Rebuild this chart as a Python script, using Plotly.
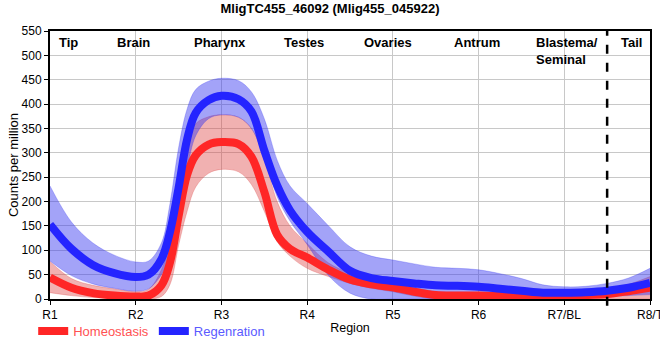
import plotly.graph_objects as go

# ---- data ----
x_pos = [1.0, 1.25, 1.5, 1.75, 2.0, 2.15, 2.3, 2.4, 2.5, 2.6, 2.7, 2.85, 3.0, 3.2, 3.35,
         3.5, 3.65, 3.8, 4.0, 4.25, 4.5, 4.75, 5.0, 5.25, 5.5, 5.75, 6.0, 6.25, 6.5,
         6.75, 7.0, 7.25, 7.5, 7.75, 8.0]

reg_mean = [153, 103, 70, 53, 45, 50, 82, 138, 228, 328, 382, 408, 417, 410, 385,
            305, 233, 182, 138, 97, 58, 43, 37, 32, 28, 27, 25, 21, 17,
            13, 13, 14, 17, 23, 33]
reg_upper = [232, 158, 115, 90, 76, 78, 115, 196, 310, 390, 430, 447, 453, 448, 425,
             370, 285, 232, 196, 150, 107, 88, 80, 72, 65, 63, 60, 52, 42,
             29, 25, 26, 32, 43, 63]
reg_lower = [78, 48, 31, 22, 16, 21, 50, 85, 155, 265, 335, 370, 378, 373, 350,
             290, 210, 160, 112, 48, 12, 0, 0, 0, 0, 0, 0, 0, 0,
             1, 2, 3, 5, 7, 9]

hom_mean = [44, 23, 12, 7, 5, 7, 28, 75, 170, 255, 295, 317, 322, 318, 292,
            220, 132, 103, 85, 60, 40, 30, 24, 15, 8, 7, 7, 6, 6,
            6, 6, 8, 10, 16, 23]
hom_upper = [77, 42, 28, 21, 15, 20, 60, 120, 220, 320, 360, 374, 378, 373, 350,
             290, 200, 150, 114, 74, 53, 38, 32, 24, 15, 14, 14, 13, 12,
             12, 13, 15, 20, 30, 46]
hom_lower = [13, 7, 3, 1, 0, 0, 5, 30, 110, 180, 230, 258, 266, 261, 235,
             180, 118, 88, 63, 46, 32, 22, 15, 6, 0, 0, 0, 0, 0,
             0, 0, 0, 0, 0, 0]

tick_vals = [1, 2, 3, 4, 5, 6, 7, 8]
tick_text = ["R1", "R2", "R3", "R4", "R5", "R6", "R7/BL", "R8/T"]

region_names = ["Tip", "Brain", "Pharynx", "Testes", "Ovaries", "Antrum", "Blastema/<br>Seminal", "Tail"]
region_x = [1.21, 1.97, 2.98, 3.96, 4.94, 5.98, 6.65, 7.78]

divider_x = 7.5

FONT = "Liberation Sans, Arial, sans-serif"

fig = go.Figure()

# Homeostasis band
fig.add_trace(go.Scatter(x=x_pos, y=hom_lower, mode="lines", line=dict(width=0.8, color="rgba(220,60,60,0.35)", shape="spline"),
                         showlegend=False, hoverinfo="skip"))
fig.add_trace(go.Scatter(x=x_pos, y=hom_upper, mode="lines", line=dict(width=0.8, color="rgba(220,60,60,0.35)", shape="spline"),
                         fill="tonexty", fillcolor="rgba(220,60,60,0.40)", showlegend=False, hoverinfo="skip"))
# Regeneration band
fig.add_trace(go.Scatter(x=x_pos, y=reg_lower, mode="lines", line=dict(width=0.8, color="rgba(50,50,240,0.35)", shape="spline"),
                         showlegend=False, hoverinfo="skip"))
fig.add_trace(go.Scatter(x=x_pos, y=reg_upper, mode="lines", line=dict(width=0.8, color="rgba(50,50,240,0.35)", shape="spline"),
                         fill="tonexty", fillcolor="rgba(50,50,240,0.45)", showlegend=False, hoverinfo="skip"))
# Mean lines
fig.add_trace(go.Scatter(x=x_pos, y=hom_mean, mode="lines", line=dict(width=8, color="#ff2626", shape="spline"),
                         name='<span style="color:#ff5252">Homeostasis</span>'))
fig.add_trace(go.Scatter(x=x_pos, y=reg_mean, mode="lines", line=dict(width=8, color="#2424ff", shape="spline"),
                         name='<span style="color:#5a5aff">Regenration</span>'))

for name, xv in zip(region_names, region_x):
    if "Blastema" in name:
        fig.add_annotation(x=xv, y=545, xref="x", yref="y", text="<b>" + name + "</b>", showarrow=False,
                           xanchor="left", yanchor="top", align="left",
                           font=dict(family=FONT, size=13, color="black"))
    else:
        fig.add_annotation(x=xv, y=545, xref="x", yref="y", text="<b>" + name + "</b>", showarrow=False,
                           xanchor="center", yanchor="top",
                           font=dict(family=FONT, size=13, color="black"))

fig.add_shape(type="line", x0=divider_x, x1=divider_x, xref="x", yref="paper", y0=-0.025, y1=1,
              line=dict(color="black", width=2.5, dash="dash"))

fig.update_layout(
    width=660, height=360,
    margin=dict(l=50, r=10, t=31, b=61, autoexpand=False),
    paper_bgcolor="white", plot_bgcolor="white",
    font=dict(family=FONT, size=12, color="black"),
    title=dict(text="<b>MligTC455_46092 (Mlig455_045922)</b>", x=0.5, xanchor="center", y=0.977, yanchor="middle",
               font=dict(family=FONT, size=13, color="black")),
    legend=dict(orientation="h", x=-0.028, xanchor="left", y=-0.12, yanchor="middle",
                font=dict(family=FONT, size=13), bgcolor="rgba(0,0,0,0)", itemwidth=30, traceorder="normal"),
    showlegend=True,
)

fig.update_xaxes(range=[1, 8], tickvals=tick_vals, ticktext=tick_text, showgrid=True, gridcolor="#c8c8c8", gridwidth=1,
                 showline=True, linecolor="black", linewidth=2, mirror=True, ticks="outside", ticklen=4, tickcolor="black",
                 tickfont=dict(family=FONT, size=12, color="black"), zeroline=False, automargin=False,
                 ticklabeloverflow="allow",
                 title=dict(text="Region", standoff=2, font=dict(family=FONT, size=12.5, color="black")))
fig.update_yaxes(range=[0, 550], dtick=50, showgrid=True, gridcolor="#c8c8c8", gridwidth=1,
                 showline=True, linecolor="black", linewidth=2, mirror=True, ticks="outside", ticklen=4, tickcolor="black",
                 tickfont=dict(family=FONT, size=12, color="black"), zeroline=False, automargin=False,
                 title=dict(text="Counts per million", standoff=0, font=dict(family=FONT, size=13, color="black")))

fig.write_html("out.html", config={"displayModeBar": False},
               post_script="document.body.style.margin='0';document.body.style.padding='0';")
